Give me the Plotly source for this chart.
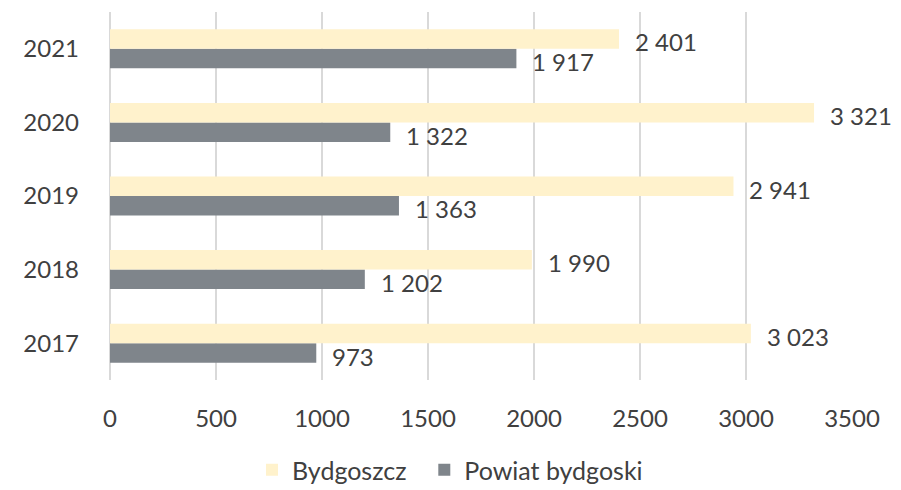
import plotly.graph_objects as go

years = ["2017", "2018", "2019", "2020", "2021"]
bydgoszcz = [3023, 1990, 2941, 3321, 2401]
powiat = [973, 1202, 1363, 1322, 1917]
series_names = ["Bydgoszcz", "Powiat bydgoski"]
x_ticks = [0, 500, 1000, 1500, 2000, 2500, 3000, 3500]

def fmt(v):
    return f"{v:,}".replace(",", " ")

FONT = "Lato"
TXT = "#404040"
FS = 24

# page body has an 8px margin, so the figure is sized/offset to compensate
W, H = 893, 482

fig = go.Figure()
fig.add_trace(go.Bar(y=years, x=powiat, name=series_names[1], orientation="h",
                     marker=dict(color="#7f858b", line=dict(width=0)), legendrank=2))
fig.add_trace(go.Bar(y=years, x=bydgoszcz, name=series_names[0] + "\u00a0\u00a0", orientation="h",
                     marker=dict(color="#fff2cc", line=dict(width=0)), legendrank=1))

annotations = []
for i, v in enumerate(bydgoszcz):
    annotations.append(dict(x=v, y=i + 0.135, xref="x", yref="y", text=fmt(v),
                            showarrow=False, xanchor="left", yanchor="middle", xshift=14, yshift=-3,
                            font=dict(family=FONT, size=FS, color=TXT)))
for i, v in enumerate(powiat):
    annotations.append(dict(x=v, y=i - 0.135, xref="x", yref="y", text=fmt(v),
                            showarrow=False, xanchor="left", yanchor="middle", xshift=14, yshift=-3,
                            font=dict(family=FONT, size=FS, color=TXT)))

fig.update_layout(
    width=W, height=H,
    margin=dict(l=102, r=49, t=4, b=110, autoexpand=False),
    paper_bgcolor="white", plot_bgcolor="white",
    barmode="group", bargap=0.47, bargroupgap=0,
    font=dict(family=FONT, size=FS, color=TXT),
    xaxis=dict(range=[0, 3500], tickvals=x_ticks, ticktext=[str(t) for t in x_ticks],
               showgrid=True, gridcolor="#d9d9d9", gridwidth=1.5,
               zeroline=True, zerolinecolor="#d9d9d9", zerolinewidth=1.5,
               showline=False, ticks="", ticklabelstandoff=22, automargin=False),
    yaxis=dict(type="category", categoryorder="array", categoryarray=years,
               showgrid=False, zeroline=False, showline=False, ticks="",
               ticklabelstandoff=30, automargin=False),
    legend=dict(orientation="h", xref="container", x=244 / W, xanchor="left",
                yref="container", y=1 - 462 / H, yanchor="middle",
                font=dict(family=FONT, size=25, color=TXT), itemwidth=30,
                traceorder="normal"),
    annotations=annotations,
    showlegend=True,
)

fig.write_html("out.html")
